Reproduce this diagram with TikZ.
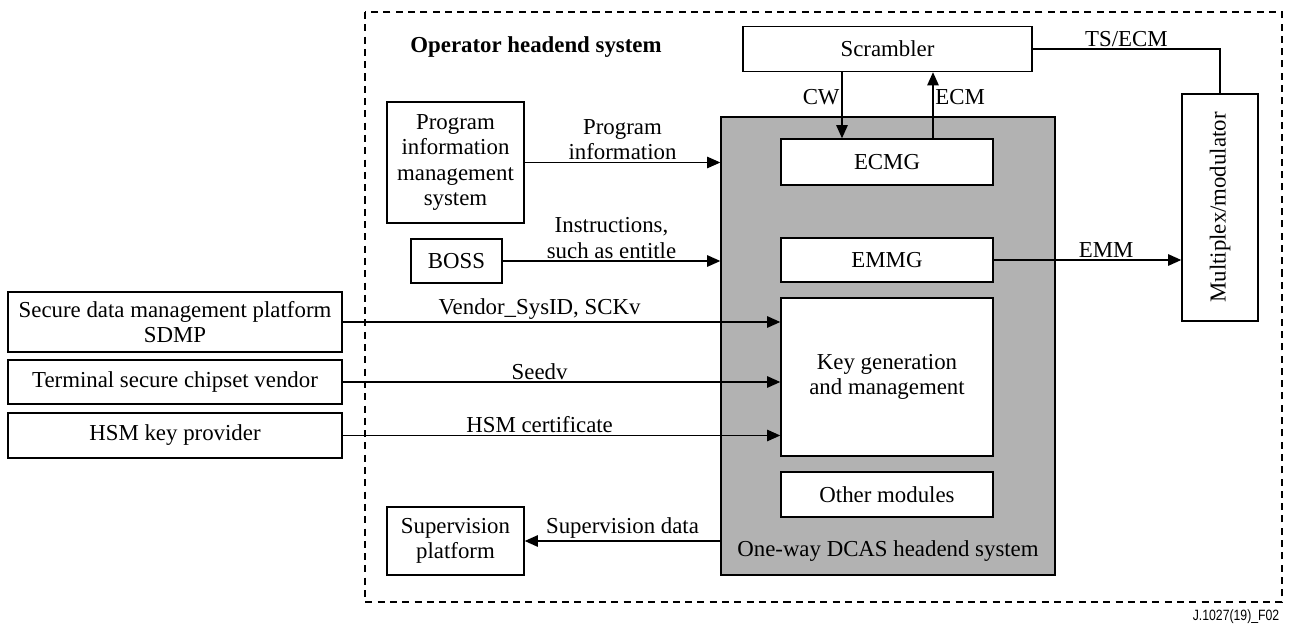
\documentclass[tikz,border=0pt]{standalone}
\usepackage{fontspec}
\setmainfont{Liberation Serif}
\newfontfamily\figsans{Liberation Sans}[FakeStretch=0.82]
\usetikzlibrary{arrows.meta}

\tikzset{
	blk/.style={draw, fill=white, align=center, inner sep=1pt, font=\fontsize{13}{14.5}\selectfont},
	lbl/.style={align=center, inner sep=1pt, font=\fontsize{13}{14.5}\selectfont},
}

\begin{document}
\begin{tikzpicture}[x=0.02cm, y=-0.02cm, line width=0.8pt, >={Triangle[length=7.5pt,width=6.5pt]}]
	\useasboundingbox (0,0) rectangle (1289,625);

	\draw[dashed, dash pattern=on 4pt off 3pt] (365,12) rectangle (1282,602);
	\node[lbl, font=\fontsize{13}{14.5}\selectfont\bfseries] (title) at (536,47) {Operator headend system};

	\node[draw, fill=black!30, minimum width=6.68cm, minimum height=9.16cm] (dcas) at (888,346) {};
	\node[lbl] (dcaslbl) at (888,551) {One-way DCAS headend system};
	\node[blk, minimum width=5.78cm, minimum height=0.9cm] (scr) at (887.5,49) {Scrambler};
	\node[blk, minimum width=4.24cm, minimum height=0.92cm] (ecmg) at (887,162) {ECMG};
	\node[blk, minimum width=4.24cm, minimum height=0.88cm] (emmg) at (887,260) {EMMG};
	\node[blk, minimum width=4.24cm, minimum height=3.16cm] (keygen) at (887,377) {Key generation\\and management};
	\node[blk, minimum width=4.24cm, minimum height=0.9cm] (other) at (887,494.5) {Other modules};

	\node[blk, minimum width=1.52cm, minimum height=4.54cm] (mux) at (1220,207.5) {};
	\node[lbl, rotate=90] (muxlbl) at (mux.center) {Multiplex/modulator};

	\node[blk, minimum width=2.74cm, minimum height=2.42cm] (pims) at (455.5,162.5) {Program\\information\\management\\system};
	\node[blk, minimum width=1.82cm, minimum height=0.88cm] (boss) at (456.5,261) {BOSS};
	\node[blk, minimum width=2.74cm, minimum height=1.36cm] (sup) at (455.5,541) {Supervision\\platform};

	\node[blk, minimum width=6.68cm, minimum height=1.2cm] (sdmp) at (175,322) {Secure data management platform\\SDMP};
	\node[blk, minimum width=6.68cm, minimum height=0.88cm] (tscv) at (175,382) {Terminal secure chipset vendor};
	\node[blk, minimum width=6.68cm, minimum height=0.9cm] (hsm) at (175,435.5) {HSM key provider};

	\coordinate (cw) at (842,0);
	\coordinate (ecm) at (933,0);
	\draw[->] (scr.south -| cw) -- (ecmg.north -| cw) node[lbl, pos=0.38, left] {CW};
	\draw[->] (ecmg.north -| ecm) -- (scr.south -| ecm) node[lbl, pos=0.62, right] {ECM};
	\draw (scr.east) -| (mux.north) node[lbl, pos=0.25, above] {TS/ECM};
	\draw[->] (emmg.east) -- (emmg -| mux.west) node[lbl, pos=0.6, above] {EMM};

	\draw[->] (pims.east) -- (pims -| dcas.west) node[lbl, midway, above] {Program\\information};
	\draw[->] (boss.east) -- (boss -| dcas.west) node[lbl, midway, above] {Instructions,\\such as entitle};
	\draw[->] (dcas.west |- sup) -- (sup.east) node[lbl, midway, above] {Supervision data};

	\draw[->] (sdmp.east) -- (sdmp -| keygen.west) node[lbl, pos=0.45, above] {Vendor\_SysID, SCKv};
	\draw[->] (tscv.east) -- (tscv -| keygen.west) node[lbl, pos=0.45, above] {Seedv};
	\draw[->] (hsm.east) -- (hsm -| keygen.west) node[lbl, pos=0.45, above] {HSM certificate};

	\node[anchor=east, inner sep=0pt, font=\figsans\fontsize{8.5}{10}\selectfont] (figid) at (1280,617) {J.1027(19)\_F02};
\end{tikzpicture}
\end{document}
